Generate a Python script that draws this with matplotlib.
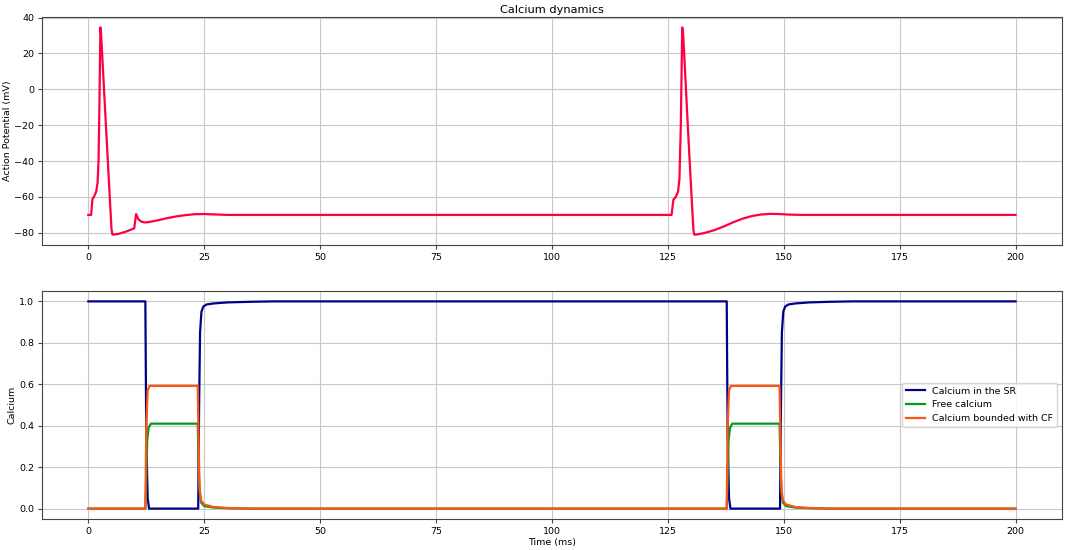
import matplotlib
matplotlib.use("Agg")
import matplotlib.pyplot as plt

# Action potential keypoints (ms, mV)
ap_t = [0, 0.6, 0.9, 1.2, 1.7, 2.0, 2.2, 2.4, 2.6, 2.75, 4.0, 5.0, 5.2, 6.5, 8.0, 9.9, 10.3, 10.8, 11.5, 12.2,
        13.0, 15.0, 17.0, 19.0, 21.0, 23.0, 25.0, 27.0, 30.0, 35.0,
        125.8, 126.2, 126.7, 127.2, 127.5, 127.8, 128.1, 128.3, 129.5, 130.5, 130.7, 131.5, 133.0,
        135.0, 137.0, 139.0, 141.0, 143.0, 145.0, 147.0, 149.0, 151.0, 154.0, 200.0]
ap_v = [-70, -70, -61, -60, -57, -52, -40, -8, 34.5, 31, -30, -78, -81, -80.6, -79.4, -77.5, -69.5, -72.5, -73.8, -74.2,
        -74.0, -73.0, -71.8, -70.8, -70.1, -69.6, -69.5, -69.7, -70.0, -70.0,
        -70, -61.5, -60, -57, -50, -20, 34.5, 31, -30, -78, -81, -80.8, -80.0,
        -78.5, -76.5, -74.2, -72.2, -70.7, -69.8, -69.4, -69.5, -69.8, -70.0, -70.0]

# Calcium in the SR
sr_t = [0, 12.3, 12.5, 12.8, 13.1, 23.7, 23.9, 24.1, 24.4, 24.8, 25.5, 27, 30, 35, 40,
        137.7, 137.9, 138.2, 138.5, 149.2, 149.4, 149.6, 149.9, 150.3, 151, 152.5, 155.5, 160, 165, 200]
sr_v = [1.0, 1.0, 0.35, 0.05, 0.0, 0.0, 0.5, 0.85, 0.95, 0.975, 0.985, 0.99, 0.995, 0.998, 1.0,
        1.0, 0.35, 0.05, 0.0, 0.0, 0.5, 0.85, 0.95, 0.975, 0.985, 0.99, 0.995, 0.998, 1.0, 1.0]

# Free calcium
fc_t = [0, 12.3, 12.5, 12.7, 13.0, 13.5, 23.6, 23.8, 24.0, 24.3, 25, 27, 30, 35,
        137.7, 137.9, 138.1, 138.4, 138.9, 149.1, 149.3, 149.5, 149.8, 150.5, 152.5, 155.5, 160, 200]
fc_v = [0, 0, 0.15, 0.33, 0.39, 0.41, 0.41, 0.2, 0.08, 0.03, 0.012, 0.005, 0.002, 0.0,
        0, 0.15, 0.33, 0.39, 0.41, 0.41, 0.2, 0.08, 0.03, 0.012, 0.005, 0.002, 0.0, 0.0]

# Calcium bounded with CF
cb_t = [0, 12.3, 12.5, 12.8, 13.2, 23.6, 23.8, 24.0, 24.3, 25, 27, 30, 35,
        137.7, 137.9, 138.2, 138.6, 149.1, 149.3, 149.5, 149.8, 150.5, 152.5, 155.5, 160, 200]
cb_v = [0, 0, 0.4, 0.57, 0.592, 0.592, 0.3, 0.1, 0.04, 0.02, 0.008, 0.003, 0.0,
        0, 0.4, 0.57, 0.592, 0.592, 0.3, 0.1, 0.04, 0.02, 0.008, 0.003, 0.0, 0.0]

labels = ["Calcium in the SR", "Free calcium", "Calcium bounded with CF"]
colors = ["#00008B", "#009922", "#FF5511"]

fig = plt.figure(figsize=(10.65, 5.5), dpi=100)
ax1 = fig.add_axes([0.0394, 0.5545, 0.9577, 0.4145])
ax2 = fig.add_axes([0.0394, 0.0564, 0.9577, 0.4145])

fs = 6.8
for ax in (ax1, ax2):
    ax.grid(True, color="#c8c8c8", lw=0.8)
    ax.set_xticks(range(0, 201, 25))
    ax.tick_params(labelsize=fs, length=3, pad=2.5, color="#444444")
    for s in ax.spines.values():
        s.set_color("#444444")

ax1.plot(ap_t, ap_v, color="#FF0040", lw=1.6)
ax1.set_title("Calcium dynamics", fontsize=8.2, pad=3)
ax1.set_ylabel("Action Potential (mV)", fontsize=fs, labelpad=2)
ax1.set_yticks(range(-80, 41, 20))

ax2.plot(sr_t, sr_v, color=colors[0], lw=1.6, label=labels[0])
ax2.plot(fc_t, fc_v, color=colors[1], lw=1.6, label=labels[1])
ax2.plot(cb_t, cb_v, color=colors[2], lw=1.6, label=labels[2])
ax2.set_xlabel("Time (ms)", fontsize=fs, labelpad=1.5)
ax2.set_ylabel("Calcium", fontsize=fs, labelpad=2)
ax2.legend(loc="center right", fontsize=fs)

fig.savefig("out.png", dpi=100)
